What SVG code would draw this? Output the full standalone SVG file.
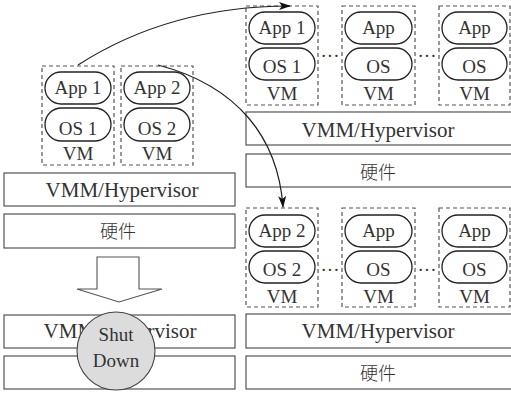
<svg xmlns="http://www.w3.org/2000/svg" width="511" height="394" viewBox="0 0 511 394" font-family="'Liberation Serif',serif">
<style>
.t{font-family:'Liberation Serif',serif;font-size:19px;fill:#333;text-anchor:middle}
.big{font-family:'Liberation Serif',serif;font-size:21px;fill:#333;text-anchor:middle}
.cjk{font-family:'Noto Sans CJK SC','Noto Sans CJK JP',sans-serif;font-size:18px;font-weight:300;fill:#333;text-anchor:middle}
.vm{fill:none;stroke:#555;stroke-width:1.2;stroke-dasharray:4,3}
.pill{fill:#fff;stroke:#222;stroke-width:1.3}
.box{fill:#fff;stroke:#444;stroke-width:1.1}
.conn{fill:none;stroke:#222;stroke-width:1.2}
</style>
<defs>
<marker id="ah" viewBox="0 0 12 8" refX="11" refY="4" markerWidth="12" markerHeight="8" markerUnits="userSpaceOnUse" orient="auto">
<path d="M0,0 L12,4 L0,8 L3,4 Z" fill="#111"/>
</marker>
</defs>

<g id="left-vm1">
<rect class="vm" x="42" y="66" width="72" height="99"/>
<rect class="pill" x="45" y="72" width="66" height="32" rx="16"/>
<text class="t" x="78" y="94">App 1</text>
<rect class="pill" x="45" y="108" width="66" height="33" rx="16.5"/>
<text class="t" x="78" y="135">OS 1</text>
<text class="t" x="78" y="160">VM</text>
</g>
<g id="left-vm2">
<rect class="vm" x="121" y="66" width="72" height="99"/>
<rect class="pill" x="124" y="72" width="66" height="32" rx="16"/>
<text class="t" x="157" y="94">App 2</text>
<rect class="pill" x="124" y="108" width="66" height="33" rx="16.5"/>
<text class="t" x="157" y="135">OS 2</text>
<text class="t" x="157" y="160">VM</text>
</g>
<g id="left-vmm">
<rect class="box" x="4" y="173" width="231" height="33"/>
<text class="big" x="122" y="197">VMM/Hypervisor</text>
</g>
<g id="left-hw">
<rect class="box" x="4" y="214" width="231" height="34"/>
<text class="cjk" x="118" y="238">硬件</text>
</g>
<g id="down-arrow">
<path d="M97,257 H139 V289 H162 L119,302 L77,289 H97 Z" fill="#fff" stroke="#555" stroke-width="1.1"/>
</g>
<g id="left-vmm-bottom">
<rect class="box" x="4" y="315" width="231" height="33"/>
<text class="big" x="120" y="338">VMM/Hypervisor</text>
</g>
<g id="left-hw-bottom">
<rect class="box" x="4" y="356" width="231" height="33"/>
</g>
<g id="shutdown">
<circle cx="116" cy="351" r="39" fill="#dcdcdc" stroke="#444" stroke-width="1.1"/>
<text class="t" x="116" y="341">Shut</text>
<text class="t" x="116" y="367">Down</text>
</g>

<g id="rt-vm1">
<rect class="vm" x="246" y="6" width="72" height="99"/>
<rect class="pill" x="249" y="12" width="66" height="32" rx="16"/>
<text class="t" x="282" y="34">App 1</text>
<rect class="pill" x="249" y="48" width="66" height="32" rx="16"/>
<text class="t" x="282" y="73">OS 1</text>
<text class="t" x="282" y="100">VM</text>
</g>
<g id="rt-vm2">
<rect class="vm" x="342" y="6" width="73" height="99"/>
<rect class="pill" x="345" y="12" width="67" height="32" rx="16"/>
<text class="t" x="378.5" y="34">App</text>
<rect class="pill" x="345" y="48" width="67" height="32" rx="16"/>
<text class="t" x="378.5" y="73">OS</text>
<text class="t" x="378.5" y="100">VM</text>
</g>
<g id="rt-vm3">
<rect class="vm" x="439" y="6" width="71" height="99"/>
<rect class="pill" x="442" y="12" width="65" height="32" rx="16"/>
<text class="t" x="474.5" y="34">App</text>
<rect class="pill" x="442" y="48" width="65" height="32" rx="16"/>
<text class="t" x="474.5" y="73">OS</text>
<text class="t" x="474.5" y="100">VM</text>
</g>
<g id="rt-dots">
<text class="t" x="330" y="62">···</text>
<text class="t" x="427" y="62">···</text>
</g>
<g id="rt-vmm">
<rect class="box" x="246" y="112" width="270" height="33"/>
<text class="big" x="378" y="137">VMM/Hypervisor</text>
</g>
<g id="rt-hw">
<rect class="box" x="246" y="154" width="270" height="33"/>
<text class="cjk" x="378" y="179">硬件</text>
</g>

<g id="rb-vm1">
<rect class="vm" x="246" y="208" width="72" height="99"/>
<rect class="pill" x="249" y="215" width="66" height="32" rx="16"/>
<text class="t" x="282" y="237">App 2</text>
<rect class="pill" x="249" y="251" width="66" height="32" rx="16"/>
<text class="t" x="282" y="276">OS 2</text>
<text class="t" x="282" y="303">VM</text>
</g>
<g id="rb-vm2">
<rect class="vm" x="342" y="208" width="73" height="99"/>
<rect class="pill" x="345" y="215" width="67" height="32" rx="16"/>
<text class="t" x="378.5" y="237">App</text>
<rect class="pill" x="345" y="251" width="67" height="32" rx="16"/>
<text class="t" x="378.5" y="276">OS</text>
<text class="t" x="378.5" y="303">VM</text>
</g>
<g id="rb-vm3">
<rect class="vm" x="439" y="208" width="71" height="99"/>
<rect class="pill" x="442" y="215" width="65" height="32" rx="16"/>
<text class="t" x="474.5" y="237">App</text>
<rect class="pill" x="442" y="251" width="65" height="32" rx="16"/>
<text class="t" x="474.5" y="276">OS</text>
<text class="t" x="474.5" y="303">VM</text>
</g>
<g id="rb-dots">
<text class="t" x="330" y="276">···</text>
<text class="t" x="427" y="276">···</text>
</g>
<g id="rb-vmm">
<rect class="box" x="246" y="314" width="270" height="34"/>
<text class="big" x="378" y="338">VMM/Hypervisor</text>
</g>
<g id="rb-hw">
<rect class="box" x="246" y="356" width="270" height="33"/>
<text class="cjk" x="378" y="380">硬件</text>
</g>

<g id="connectors">
<path class="conn" d="M78,65 Q170,6 290,6" marker-end="url(#ah)"/>
<path class="conn" d="M158,65 C238,86 278,138 283,207" marker-end="url(#ah)"/>
</g>
</svg>
